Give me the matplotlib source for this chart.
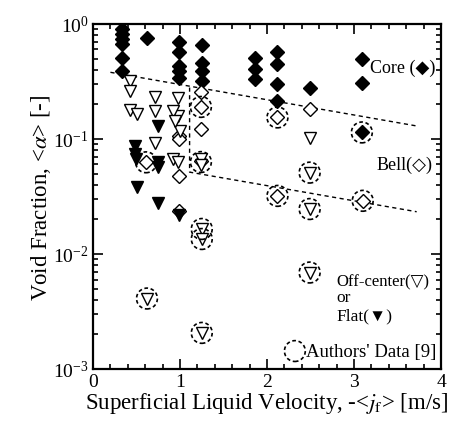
import matplotlib
matplotlib.use("Agg")
import matplotlib.pyplot as plt
from matplotlib.ticker import MultipleLocator, LogLocator, NullFormatter

plt.rcParams['font.family'] = ['Liberation Serif', 'DejaVu Sans']
plt.rcParams['mathtext.fontset'] = 'stix'

# Core (filled diamonds)
core_x = [0.33, 0.33, 0.33, 0.33, 0.33, 0.33, 0.62,
          0.99, 0.99, 0.99, 0.99, 0.99,
          1.25, 1.25, 1.25, 1.25,
          1.86, 1.86, 1.86,
          2.12, 2.12, 2.12, 2.12,
          2.49, 3.09, 3.09, 3.09]
core_y = [0.90, 0.82, 0.74, 0.67, 0.51, 0.39, 0.75,
          0.70, 0.57, 0.43, 0.39, 0.34,
          0.65, 0.46, 0.39, 0.32,
          0.51, 0.41, 0.33,
          0.57, 0.45, 0.30, 0.215,
          0.28, 0.50, 0.305, 0.114]

# Bell (open diamonds)
bell_x = [1.24, 1.24, 1.24, 1.24, 0.99, 0.99, 0.99, 0.99, 0.61, 2.12, 2.12, 2.49, 3.10]
bell_y = [0.255, 0.19, 0.122, 0.065, 0.107, 0.10, 0.048, 0.0238, 0.0627, 0.154, 0.032, 0.182, 0.029]

# Off-center (open triangles)
off_x = [0.42, 0.42, 0.42, 0.50, 0.71, 0.71, 0.71, 0.98, 0.98, 1.00, 0.92, 0.92, 0.94, 0.98,
         1.24, 1.24, 1.25, 1.25, 1.25, 0.62, 2.49, 2.49, 2.49, 2.49]
off_y = [0.32, 0.263, 0.18, 0.165, 0.23, 0.176, 0.0915, 0.226, 0.16, 0.118, 0.176, 0.067, 0.144, 0.063,
         0.067, 0.059, 0.0165, 0.0135, 0.00206, 0.0041, 0.103, 0.051, 0.0246, 0.0069]

# Flat (filled triangles)
flat_x = [0.75, 0.75, 0.75, 0.75, 0.48, 0.48, 0.49, 0.50, 0.99]
flat_y = [0.13, 0.063, 0.057, 0.028, 0.0875, 0.074, 0.067, 0.038, 0.0218]

# Authors' data (dashed circles)
auth_x = [1.24, 1.24, 0.61, 2.12, 2.12, 3.09, 3.10, 2.49, 2.49, 2.49, 1.25, 1.25, 0.62, 1.25]
auth_y = [0.19, 0.063, 0.0627, 0.154, 0.032, 0.114, 0.029, 0.051, 0.0246, 0.0069,
          0.0165, 0.0135, 0.0041, 0.00206]

# dashed boundary lines
upper_x = [0.20, 3.74]
upper_y = [0.38, 0.129]
lower_x = [1.11, 1.11, 3.72]
lower_y = [0.28, 0.0515, 0.0233]

fig = plt.figure(figsize=(4.52, 4.27), dpi=100)
ax = fig.add_axes([0.2058, 0.1335, 0.7699, 0.808])

ax.plot(upper_x, upper_y, color='black', lw=1.0, ls=(0, (3, 2.5)))
ax.plot(lower_x, lower_y, color='black', lw=1.0, ls=(0, (3, 2.5)))

ax.plot(core_x, core_y, 'D', ms=7.2, mfc='black', mec='black', mew=1, ls='none')
ax.plot(bell_x, bell_y, 'D', ms=7.2, mfc='white', mec='black', mew=1, ls='none')
ax.plot(off_x, off_y, 'v', ms=9, mfc='white', mec='black', mew=1, ls='none')
ax.plot(flat_x, flat_y, 'v', ms=9, mfc='black', mec='black', mew=1, ls='none')

circ = dict(marker='o', s=15 ** 2, facecolors='none', edgecolors='black',
            linewidths=1.2, linestyles=(0, (2.2, 1.6)))
ax.scatter(auth_x, auth_y, zorder=3, **circ)

ax.set_yscale('log')
ax.set_xlim(0, 4)
ax.set_ylim(1e-3, 1)
ax.xaxis.set_major_locator(MultipleLocator(1))
ax.xaxis.set_minor_locator(MultipleLocator(0.2))
ax.yaxis.set_major_locator(LogLocator(base=10, numticks=10))
ax.yaxis.set_minor_locator(LogLocator(base=10, subs=range(2, 10), numticks=20))
ax.yaxis.set_minor_formatter(NullFormatter())

ax.tick_params(which='both', direction='in', top=True, right=True, labelsize=14, width=1.2)
ax.tick_params(which='major', length=7, pad=3)
ax.tick_params(which='minor', length=3.5)
for sp in ax.spines.values():
    sp.set_linewidth(1.6)

ax.set_xlabel('Superficial Liquid Velocity, -<$j_{\\rm f}$> [m/s]', fontsize=16.5, labelpad=0)
ax.set_ylabel('Void Fraction, <$\\alpha$> [-]', fontsize=16.5, labelpad=0)

ax.text(0.796, 0.875, 'Core (◆)', transform=ax.transAxes, fontsize=13, va='center')
ax.text(0.816, 0.594, 'Bell(◇)', transform=ax.transAxes, fontsize=13, va='center')
ax.text(0.700, 0.255, 'Off-center(▽)', transform=ax.transAxes, fontsize=12, va='center')
ax.text(0.700, 0.209, 'or', transform=ax.transAxes, fontsize=12.5, va='center')
ax.text(0.700, 0.154, 'Flat(▼)', transform=ax.transAxes, fontsize=12.5, va='center')
ax.scatter([0.58], [0.052], transform=ax.transAxes, clip_on=False, **circ)
ax.text(0.613, 0.052, "Authors' Data [9]", transform=ax.transAxes, fontsize=13.5, va='center')

fig.savefig('out.png', dpi=100)
